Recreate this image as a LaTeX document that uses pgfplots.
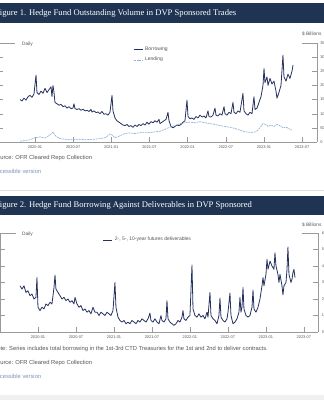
\documentclass[border=0pt]{standalone}
\usepackage{pgfplots}
\pgfplotsset{compat=1.18}
\usepackage{fontspec}
\setmainfont{Liberation Sans}
\newfontfamily\titlefont{Liberation Serif}
\definecolor{hdr}{HTML}{1E3452}
\definecolor{borrow}{HTML}{27315F}
\definecolor{lend}{HTML}{8FB2D6}
\definecolor{txt}{HTML}{555555}
\definecolor{acc}{HTML}{7F93B8}
\definecolor{axc}{HTML}{9A9A9A}
\pgfplotsset{
  ofr/.style={
    scale only axis,
    axis x line*=bottom, axis y line*=right,
    axis line style={axc, line width=0.4pt},
    xmin=-6, xmax=44.3,
    xtick={0,6,12,18,24,30,36,42},
    xticklabels={2020-01,2020-07,2021-01,2021-07,2022-01,2022-07,2023-01,2023-07},
    tick style={axc, line width=0.4pt},
    tick align=inside,
    major tick length=5pt,
    ticklabel style={font=\fontsize{3.9}{4}\selectfont, text=txt},
    /pgf/number format/assume math mode=true,
    legend cell align=left,
    legend image code/.code={\draw[##1] (0pt,0pt) -- (9pt,0pt);},
  },
  leftax/.style={
    scale only axis,
    axis x line=none, axis y line*=left,
    axis line style={axc, line width=0.4pt},
    xmin=-6, xmax=44.3,
    yticklabels={},
    tick style={axc, line width=0.4pt},
    tick align=inside,
    major tick length=6pt,
  }
}
\begin{document}
\begin{tikzpicture}[x=1pt,y=1pt]
\useasboundingbox (0,0) rectangle (324,400);
\clip (0,0) rectangle (324,400);
\fill[white] (0,0) rectangle (324,400);
% ---------- Figure 1 ----------
\fill[hdr] (0,377) rectangle (324,396.5);
\node[anchor=west, text=white, font=\titlefont\fontsize{8.6}{10}\selectfont, inner sep=0pt] at (-5,386.5) {Figure 1. Hedge Fund Outstanding Volume in DVP Sponsored Trades};
\node[anchor=west, text=txt, font=\fontsize{4.8}{5}\selectfont, inner sep=0pt] at (22,356) {Daily};
\node[anchor=west, text=txt, font=\fontsize{4.8}{5}\selectfont, inner sep=0pt] at (302,366) {\$ Billions};
\draw[axc, line width=0.4pt] (0,357) -- (15,357);
\draw[axc, line width=0.4pt] (302,357) -- (317,357);

\begin{axis}[ofr, at={(-3.16pt,258pt)}, anchor=south west, width=319.9pt, height=99pt,
  ymin=0, ymax=350, ytick={0,50,100,150,200,250,300,350},
  legend style={at={(0.426,0.98)}, anchor=north west, draw=none, fill=none,
    font=\fontsize{5}{6}\selectfont, text=txt, inner sep=0pt, row sep=1pt}]
\addplot[borrow, line width=0.8pt, line join=round] coordinates {
(-2.36,150)(-2.04,145)(-1.73,155)(-1.42,148)(-1.10,160)(-0.79,165)(-0.47,158)(-0.16,170)(0.16,237)(0.31,175)(0.63,168)(0.94,180)(1.26,172)(1.57,190)(1.89,175)(2.20,185)(2.52,195)(2.67,160)(2.83,200)(2.99,175)(3.14,140)(3.46,135)(3.77,130)(4.09,133)(4.40,125)(4.72,128)(5.03,120)(5.35,125)(5.66,118)(5.97,120)(6.13,135)(6.29,118)(6.60,115)(6.92,118)(7.23,112)(7.55,116)(7.86,110)(8.18,112)(8.49,108)(8.81,115)(8.96,106)(9.28,110)(9.59,104)(9.91,106)(10.22,100)(10.53,108)(10.85,98)(11.16,100)(11.48,95)(11.79,105)(12.11,165)(12.26,110)(12.58,85)(12.89,75)(13.21,70)(13.52,65)(13.84,60)(14.15,58)(14.47,62)(14.78,55)(15.09,58)(15.41,52)(15.72,60)(16.04,55)(16.35,62)(16.67,58)(16.98,65)(17.30,60)(17.61,70)(17.92,63)(18.24,72)(18.55,68)(18.87,75)(19.18,70)(19.50,80)(19.65,65)(19.97,70)(20.28,75)(20.60,80)(20.91,105)(21.07,75)(21.38,55)(21.70,50)(22.01,55)(22.33,60)(22.64,58)(22.96,62)(23.27,70)(23.58,75)(23.90,148)(24.06,90)(24.37,82)(24.69,85)(25.00,80)(25.31,90)(25.63,85)(25.94,95)(26.26,88)(26.57,92)(26.89,85)(27.20,110)(27.36,90)(27.67,88)(27.99,95)(28.30,120)(28.46,95)(28.77,92)(29.09,100)(29.40,95)(29.72,125)(29.87,100)(30.19,95)(30.50,105)(30.82,100)(31.13,140)(31.29,105)(31.60,100)(31.92,110)(32.23,105)(32.70,172)(32.86,110)(33.18,100)(33.49,95)(33.81,105)(34.12,100)(34.43,160)(34.59,115)(34.91,120)(35.22,140)(35.53,160)(35.85,200)(36.01,260)(36.16,210)(36.48,230)(36.64,200)(36.95,225)(37.26,205)(37.58,215)(37.89,180)(38.05,155)(38.36,175)(38.68,200)(38.99,307)(39.15,230)(39.47,215)(39.78,240)(40.09,225)(40.41,250)(40.57,272)
};
\addlegendentry{Borrowing}
\addplot[lend, line width=0.65pt, dash pattern=on 2pt off 0.8pt] coordinates {
(-2.36,3)(-1.57,5)(-0.79,8)(0,15)(0.79,18)(1.57,14)(2.36,25)(2.83,35)(3.30,20)(3.93,12)(4.72,10)(5.50,8)(6.29,9)(7.08,10)(7.86,8)(8.65,9)(9.43,10)(10.22,12)(11.01,15)(11.79,28)(12.11,25)(12.58,15)(13.36,22)(14.15,30)(14.94,32)(15.72,30)(16.51,33)(17.30,35)(18.08,33)(18.87,36)(19.65,38)(20.44,45)(21.23,53)(22.01,58)(22.80,65)(23.58,68)(24.37,70)(25.16,68)(25.94,72)(26.73,68)(27.52,65)(28.30,62)(29.09,58)(29.87,55)(30.66,52)(31.45,48)(32.23,42)(33.02,36)(33.81,34)(34.59,35)(35.06,42)(35.53,55)(35.85,65)(36.32,62)(36.64,55)(37.11,60)(37.58,55)(38.05,62)(38.52,58)(38.99,50)(39.47,53)(39.94,47)(40.41,42)
};
\addlegendentry{Lending}
\end{axis}
\begin{axis}[leftax, at={(-3.16pt,258pt)}, anchor=south west, width=319.9pt, height=99pt,
  ymin=0, ymax=350, ytick={0,50,100,150,200,250,300,350}]
\end{axis}

\node[anchor=west, text=txt, font=\fontsize{5.8}{7}\selectfont, inner sep=0pt] at (-7,242) {Source: OFR Cleared Repo Collection};
\node[anchor=west, text=acc, font=\fontsize{5.8}{7}\selectfont, inner sep=0pt] at (-7,229) {Accessible version};
\draw[gray!25, line width=0.6pt] (0,210) -- (324,210);

% ---------- Figure 2 ----------
\fill[hdr] (0,185) rectangle (324,204);
\node[anchor=west, text=white, font=\titlefont\fontsize{8.6}{10}\selectfont, inner sep=0pt] at (-5,194.5) {Figure 2. Hedge Fund Borrowing Against Deliverables in DVP Sponsored};
\node[anchor=west, text=txt, font=\fontsize{4.8}{5}\selectfont, inner sep=0pt] at (22,166) {Daily};
\node[anchor=west, text=txt, font=\fontsize{4.8}{5}\selectfont, inner sep=0pt] at (302,175) {\$ Billions};
\draw[axc, line width=0.4pt] (0,167) -- (16,167);
\draw[axc, line width=0.4pt] (302,167) -- (318.4,167);

\begin{axis}[ofr, at={(0pt,68pt)}, anchor=south west, width=318.4pt, height=99pt,
  ymin=0, ymax=60, ytick={0,10,20,30,40,50,60},
  legend style={at={(0.323,0.93)}, anchor=west, draw=none, fill=none,
    font=\fontsize{5}{6}\selectfont, text=txt, inner sep=0pt}]
\addplot[borrow, line width=0.8pt, line join=round] coordinates {
(-2.84,28)(-2.53,26)(-2.21,28)(-1.90,24)(-1.58,25)(-1.26,22)(-0.95,23)(-0.63,20)(-0.32,21)(-0.16,33)(0,15)(0.32,13)(0.63,15)(0.95,14)(1.26,17)(1.58,16)(1.90,18)(2.21,17)(2.53,27)(2.69,34.5)(2.84,26)(3.16,24)(3.48,22)(3.79,20)(4.11,21)(4.42,19)(4.74,20)(5.06,18)(5.37,19)(5.69,17)(5.85,21)(6.16,17)(6.48,15)(6.79,16)(7.11,13)(7.42,14)(7.74,12)(8.06,13)(8.37,11)(8.69,15)(9.00,12)(9.32,12)(9.64,10)(9.95,12)(10.27,11)(10.58,10)(10.90,12)(11.22,11)(11.53,10)(11.85,13)(12.16,30)(12.32,15)(12.64,9)(12.95,7)(13.27,6)(13.59,7)(13.90,5)(14.22,6)(14.53,5)(14.85,7)(15.17,6)(15.48,5)(15.80,7)(16.11,6)(16.43,8)(16.75,7)(17.06,6)(17.38,8)(17.69,11.5)(17.85,7)(18.17,6)(18.48,8)(18.80,6)(19.12,5)(19.43,10)(19.59,7)(19.91,6)(20.22,8)(20.38,19)(20.54,8)(20.85,6)(21.17,5)(21.48,4)(21.80,5)(22.12,7)(22.43,6)(22.75,9)(22.91,13)(23.06,8)(23.38,7)(23.70,9)(24.01,10)(24.33,40.6)(24.49,14)(24.80,10)(25.12,9)(25.43,11)(25.75,9)(26.07,10)(26.38,8)(26.70,12)(26.86,9)(27.17,24)(27.33,10)(27.65,8)(27.96,7)(28.28,5)(28.59,10)(28.75,20.6)(28.91,9)(29.23,7)(29.54,6)(29.86,8)(30.02,12)(30.33,23.6)(30.49,10)(30.81,5)(31.12,6)(31.44,8)(31.75,12)(31.91,21)(32.07,12)(32.23,15)(32.39,27)(32.54,14)(32.86,10)(33.18,9)(33.49,10)(33.81,15)(33.97,25.5)(34.12,14)(34.44,12)(34.76,15)(35.07,20)(35.39,28)(35.55,33)(35.70,28)(36.02,35)(36.18,44)(36.34,38)(36.66,43)(36.97,40)(37.28,38)(37.44,48)(37.60,40)(37.91,35)(38.07,30)(38.23,35)(38.55,28)(38.70,22.5)(38.86,28)(39.18,30)(39.34,38)(39.49,51.5)(39.65,35)(39.97,30)(40.13,32)(40.28,36)(40.44,38)(40.60,33)
};
\addlegendentry{2-, 5-, 10-year futures deliverables}
\end{axis}
\begin{axis}[leftax, at={(0pt,68pt)}, anchor=south west, width=318.4pt, height=99pt,
  ymin=0, ymax=60, ytick={0,10,20,30,40,50,60}, major tick length=4.5pt]
\end{axis}

\node[anchor=west, text=txt, font=\fontsize{5.8}{7}\selectfont, inner sep=0pt] at (-7,51) {Note: Series includes total borrowing in the 1st-3rd CTD Treasuries for the 1st and 2nd to deliver contracts.};
\node[anchor=west, text=txt, font=\fontsize{5.8}{7}\selectfont, inner sep=0pt] at (-7,37) {Source: OFR Cleared Repo Collection};
\node[anchor=west, text=acc, font=\fontsize{5.8}{7}\selectfont, inner sep=0pt] at (-7,24) {Accessible version};
\fill[gray!12] (0,0) rectangle (324,5);
\end{tikzpicture}
\end{document}
